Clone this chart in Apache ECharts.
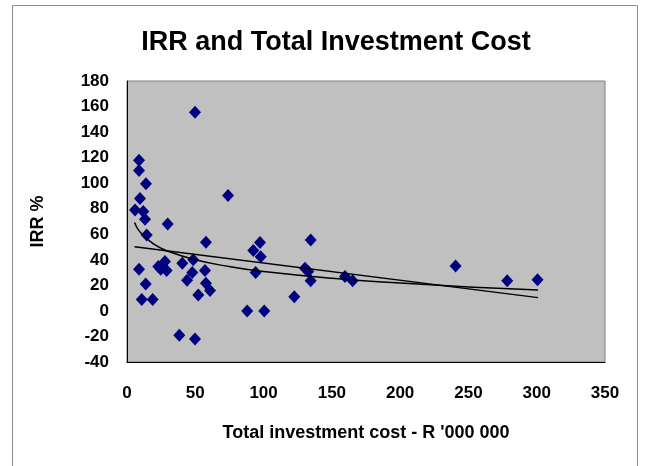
<!DOCTYPE html>
<html>
<head>
<meta charset="utf-8">
<script src="https://cdn.jsdelivr.net/npm/echarts@6/dist/echarts.min.js"></script>
<style>
  html, body { margin: 0; padding: 0; background: #fff; }
  #irr-chart { width: 649px; height: 466px; }
</style>
</head>
<body>
<div id="irr-chart"></div>
<script>
// projects: total investment cost (R '000 000) vs IRR %
var costX = [5.9, 8.8, 8.8, 13.9, 9.5, 11.9, 13.2, 29.8, 49.8, 74, 14.4, 57.8,
    8.8, 13.7, 10.8, 18.8, 22.9, 24.7, 27.8, 29, 40.5, 48.5, 47.8, 44, 57.1, 57.8,
    60.8, 52.2, 38.3, 49.8, 88, 100.5, 97.4, 92.5, 97.9, 94.2, 122.5, 134.5, 130.3,
    132.7, 134.5, 159.6, 165.2, 240.6, 278.4, 300.6];
var irrY = [79, 118, 110, 99.5, 88, 77.8, 71.8, 68.1, 155.5, 90.3, 59.5, 53.8,
    32.6, 21, 9, 9, 34.7, 32.6, 38.6, 31.6, 37.3, 40, 30, 24, 31.6, 21.7,
    15.9, 12.5, -19, -22, 0, 0, 53.5, 47.2, 42.5, 30, 11, 55.6, 33.4,
    30.8, 23.7, 26.9, 23.7, 35.2, 23.7, 24.3];

// trend lines
var trendX = [5.5, 10, 20, 30, 50, 75, 100, 150, 200, 250, 301];
var logTrend = [69.2, 61.1, 52.0, 46.7, 40.0, 34.7, 30.9, 25.6, 21.8, 18.8, 16.4];
var linX = [5.5, 301];
var linTrend = [50.3, 10.4];

var xTicks = [0, 350, 50];   // min, max, step
var yTicks = [-40, 180, 20];

var chartDom = document.getElementById('irr-chart');
var chart = echarts.init(chartDom);
var font = '"Liberation Sans", Arial, sans-serif';

var option = {
    animation: false,
    backgroundColor: '#ffffff',
    title: {
        text: 'IRR and Total Investment Cost',
        left: 331,
        textAlign: 'center',
        top: 24,
        textStyle: {
            fontFamily: font,
            fontSize: 27,
            fontWeight: 'bold',
            color: '#000'
        }
    },
    graphic: [{
        type: 'rect',
        shape: { x: 12.5, y: 5.5, width: 625, height: 470 },
        style: { fill: 'none', stroke: '#8c8c8c', lineWidth: 1 },
        silent: true
    }],
    grid: {
        left: 127,
        right: 44,
        top: 81,
        bottom: 104,
        show: true,
        backgroundColor: '#c0c0c0',
        borderColor: '#808080',
        borderWidth: 1
    },
    xAxis: {
        type: 'value',
        min: xTicks[0],
        max: xTicks[1],
        interval: xTicks[2],
        name: "Total investment cost - R '000 000",
        nameLocation: 'middle',
        nameGap: 62,
        nameTextStyle: { fontFamily: font, fontSize: 18, fontWeight: 'bold', color: '#000' },
        axisLine: { onZero: false, lineStyle: { color: '#000', width: 1 } },
        axisTick: { show: false },
        splitLine: { show: false },
        axisLabel: { fontFamily: font, fontSize: 17, fontWeight: 'bold', color: '#000', margin: 23 }
    },
    yAxis: {
        type: 'value',
        min: yTicks[0],
        max: yTicks[1],
        interval: yTicks[2],
        name: 'IRR %',
        nameLocation: 'middle',
        nameGap: 80,
        nameTextStyle: { fontFamily: font, fontSize: 18, fontWeight: 'bold', color: '#000' },
        axisLine: { show: true, lineStyle: { color: '#000', width: 1 } },
        axisTick: { show: false },
        splitLine: { show: false },
        axisLabel: { fontFamily: font, fontSize: 17, fontWeight: 'bold', color: '#000', margin: 18 }
    },
    series: [{
        name: 'IRR',
        type: 'scatter',
        symbol: 'diamond',
        symbolSize: [12, 13],
        itemStyle: { color: '#000080', opacity: 1 },
        data: costX.map(function (x, i) {
            return [x, irrY[i]];
        }),
        z: 3
    }, {
        name: 'Log trend',
        type: 'line',
        smooth: true,
        symbol: 'none',
        lineStyle: { color: '#000', width: 1.5 },
        data: trendX.map(function (x, i) {
            return [x, logTrend[i]];
        }),
        z: 4
    }, {
        name: 'Linear trend',
        type: 'line',
        symbol: 'none',
        lineStyle: { color: '#000', width: 1.5 },
        data: linX.map(function (x, i) {
            return [x, linTrend[i]];
        }),
        z: 4
    }]
};

chart.setOption(option);
</script>
</body>
</html>
